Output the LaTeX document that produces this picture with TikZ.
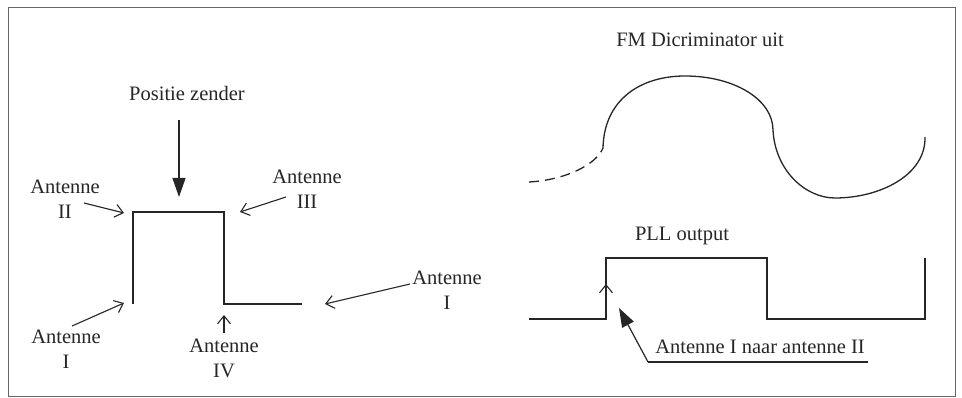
\documentclass[tikz,border=0pt]{standalone}
\usepackage{fontspec}
\setmainfont{Liberation Serif}
\usetikzlibrary{arrows.meta}
\definecolor{ink}{gray}{0.15}
\begin{document}
\begin{tikzpicture}[x=1pt,y=-1pt,
  wave/.style={line width=1.3pt, draw=ink, line join=miter},
  lbl/.style={font=\fontsize{20.5}{25}\selectfont, text=ink, align=center, inner sep=0pt},
  thinarrow/.style={line width=1.1pt, draw=ink,
    -{Straight Barb[length=8pt,width=13pt,line width=1.1pt]}},
  bigarrow/.style={line width=1.2pt, draw=ink,
    -{Triangle[length=19pt,width=13pt]}, fill=ink}]

\useasboundingbox (0,0) rectangle (962,398);
% outer frame
\draw[line width=1pt, draw=black!60] (8,8) rectangle (955,396);

% ---------- left: antenna switching waveform ----------
\coordinate (l1) at (133,304);
\coordinate (l2) at (133,212);
\coordinate (l3) at (224,212);
\coordinate (l4) at (224,304);
\coordinate (l5) at (302,304);
\draw[wave] (l1) -- (l2) -- (l3) -- (l4) -- (l5);

\node[lbl] (pos) at (187,93) {Positie zender};
\coordinate (posTip) at (179,197);
\draw[bigarrow] (179,120) -- (posTip);

\node[lbl] (a2) at (65,199) {Antenne\\II};
\node[lbl] (a3) at (307,189) {Antenne\\III};
\node[lbl] (a1l) at (66,349) {Antenne\\I};
\node[lbl] (a4) at (224,358) {Antenne\\IV};
\node[lbl] (a1r) at (447,290) {Antenne\\I};

\coordinate (s2) at (84,203);   \coordinate (t2) at (124,213);
\coordinate (s3) at (286,197);  \coordinate (t3) at (240,212);
\coordinate (s1l) at (72,326);  \coordinate (t1l) at (124,303);
\coordinate (s4) at (224,333);  \coordinate (t4) at (224,315);
\coordinate (s1r) at (410,284); \coordinate (t1r) at (325,304);
\draw[thinarrow] (s2) -- (t2);
\draw[thinarrow] (s3) -- (t3);
\draw[thinarrow] (s1l) -- (t1l);
\draw[thinarrow] (s4) -- (t4);
\draw[thinarrow] (s1r) -- (t1r);

% ---------- right: discriminator output ----------
\node[lbl] (fm) at (700,40) {FM Dicriminator uit};
\coordinate (d0) at (529,182);
\coordinate (d1) at (603,148);
\draw[wave, dash pattern=on 10pt off 6pt] (d0) .. controls (565,180) and (596,165) .. (d1);
\draw[wave] (d1) .. controls (604,100) and (640,76) .. (685,76)
  .. controls (735,76) and (773,100) .. (773,130)
  .. controls (775,170) and (805,198) .. (835,198)
  .. controls (880,198) and (926,175) .. (925,137);

% ---------- right: PLL output ----------
\node[lbl] (pll) at (682,236) {PLL output};
\coordinate (p0) at (529,319);
\coordinate (p1) at (606,319);
\coordinate (p2) at (606,258);
\coordinate (p3) at (767,258);
\coordinate (p4) at (767,319);
\coordinate (p5) at (925,319);
\coordinate (p6) at (925,258);
\draw[wave] (p0) -- (p1) -- (p2) -- (p3) -- (p4) -- (p5) -- (p6);
\draw[thinarrow] (606,295) -- (606,284);

\node[lbl] (sw) at (760,347) {Antenne I naar antenne II};
\coordinate (k) at (648,362);
\coordinate (kEnd) at (868,362);
\coordinate (kTip) at (619,308);
\draw[line width=1.2pt, draw=ink] (kEnd) -- (k);
\draw[bigarrow] (k) -- (kTip);
\end{tikzpicture}
\end{document}
